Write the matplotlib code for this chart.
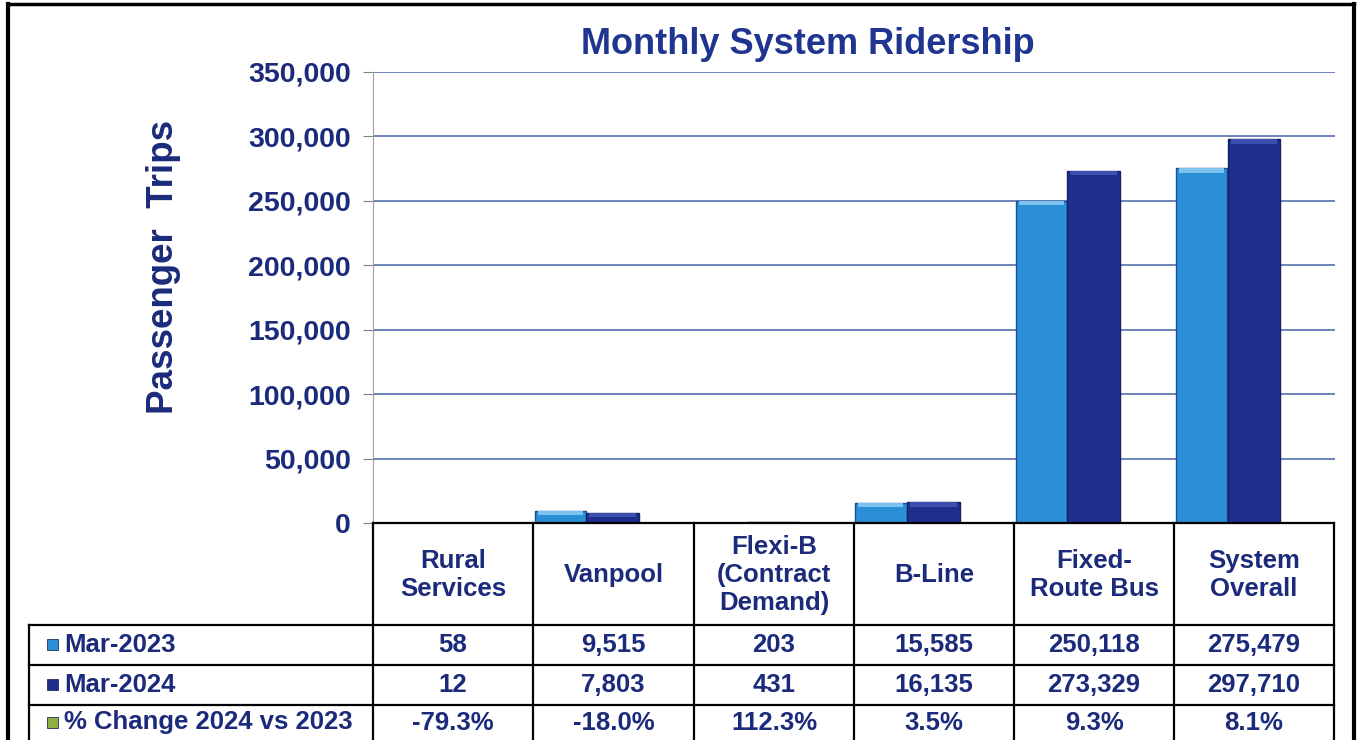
import matplotlib
matplotlib.use('Agg')
import matplotlib.pyplot as plt
from matplotlib.patches import Rectangle
from matplotlib.lines import Line2D

plt.rcParams['font.family'] = ['Liberation Sans', 'DejaVu Sans']
plt.rcParams['font.weight'] = 'bold'

categories = ['Rural\nServices', 'Vanpool', 'Flexi-B\n(Contract\nDemand)',
              'B-Line', 'Fixed-\nRoute Bus', 'System\nOverall']
mar2023 = [58, 9515, 203, 15585, 250118, 275479]
mar2024 = [12, 7803, 431, 16135, 273329, 297710]
pct_change = ['-79.3%', '-18.0%', '112.3%', '3.5%', '9.3%', '8.1%']
row_names = ['Mar-2023', 'Mar-2024', '% Change 2024 vs 2023']
yticks = [0, 50000, 100000, 150000, 200000, 250000, 300000, 350000]

navy = '#1b2a7a'
light = '#2b8fd8'
dark = '#1f2e8c'
green = '#8fb040'

W, H = 1362, 740
fig = plt.figure(figsize=(W/100, H/100), dpi=100)

def fx(px):
    return px / W

def fy(py):
    return 1 - py / H

ax = fig.add_axes([fx(373), fy(523), fx(1335) - fx(373), fy(72) - fy(523)])
n = len(categories)
xs = list(range(n))
b1 = ax.bar([x + 0.008 for x in xs], mar2023, width=0.32, align='edge',
            color=light, edgecolor='#1a4f95', linewidth=1, zorder=3)
b2 = ax.bar([x + 0.33 for x in xs], mar2024, width=0.33, align='edge',
            color=dark, edgecolor='#15205e', linewidth=1, zorder=3)
# lighter bevel strip on top of each bar
for bars, c in ((b1, '#7cc4f0'), (b2, '#3a4fb0')):
    for r in bars:
        h = min(r.get_height(), 3500)
        ax.add_patch(Rectangle((r.get_x() + 0.02, r.get_height() - h), r.get_width() - 0.04, h,
                               facecolor=c, edgecolor='none', zorder=4))
ax.set_xlim(0, n)
ax.set_ylim(0, 350000)
ax.set_yticks(yticks)
ax.set_yticklabels([f'{v:,}' for v in yticks], fontsize=20.5, color=navy, fontweight='bold')
ax.set_xticks([])
ax.tick_params(axis='y', length=7, width=0.8, color='#808080', pad=9)
ax.grid(axis='y', color='#4563a8', linewidth=1.1, zorder=0)
for s in ['top', 'right', 'bottom']:
    ax.spines[s].set_visible(False)
ax.spines['left'].set_color('#a0a0a0')
ax.spines['left'].set_linewidth(0.8)
ax.set_ylabel('Passenger  Trips', fontsize=26.5, color=navy, fontweight='bold')
ax.yaxis.set_label_coords(-0.200, 0.567)

fig.text(fx(808), fy(44), 'Monthly System Ridership', fontsize=26, color='#1f3590',
         fontweight='bold', ha='center', va='center')

# data table
col_edges = [373, 533, 694, 854, 1014, 1174, 1334]
row_edges = [523, 625, 665, 705, 745]

def hline(y, x0, x1, lw=1.6):
    fig.add_artist(Line2D([fx(x0), fx(x1)], [fy(y), fy(y)], color='black', lw=lw))

def vline(x, y0, y1, lw=1.6):
    fig.add_artist(Line2D([fx(x), fx(x)], [fy(y0), fy(y1)], color='black', lw=lw))

hline(523, 373, 1334)
for y in row_edges[1:4]:
    hline(y, 29, 1334)
for x in col_edges:
    vline(x, 523, 740)
vline(29, 625, 740)

for i, cat in enumerate(categories):
    cx = (col_edges[i] + col_edges[i + 1]) / 2
    fig.text(fx(cx), fy(575), cat, ha='center', va='center', fontsize=18.5,
             color=navy, fontweight='bold', linespacing=1.2)
    vals = [f'{mar2023[i]:,}', f'{mar2024[i]:,}', pct_change[i]]
    for r, v in enumerate(vals):
        cy = (row_edges[r + 1] + min(row_edges[r + 2], 740)) / 2
        fig.text(fx(cx), fy(cy), v, ha='center', va='center', fontsize=18.5,
                 color=navy, fontweight='bold')

key_colors = [light, dark, green]
for r, name in enumerate(row_names):
    cy = (row_edges[r + 1] + min(row_edges[r + 2], 740)) / 2
    fig.add_artist(Rectangle((fx(47), fy(cy + 5)), fx(11), fy(0) - fy(11),
                             facecolor=key_colors[r], edgecolor='#203060', lw=0.6))
    fig.text(fx(64), fy(cy), name, ha='left', va='center', fontsize=18.5,
             color=navy, fontweight='bold')

# outer frame
fig.add_artist(Line2D([fx(8), fx(8)], [fy(4), fy(740)], color='black', lw=3))
fig.add_artist(Line2D([fx(1354), fx(1354)], [fy(4), fy(740)], color='black', lw=3))
fig.add_artist(Line2D([fx(8), fx(1354)], [fy(4), fy(4)], color='black', lw=2.5))

fig.savefig('out.png', dpi=100)
